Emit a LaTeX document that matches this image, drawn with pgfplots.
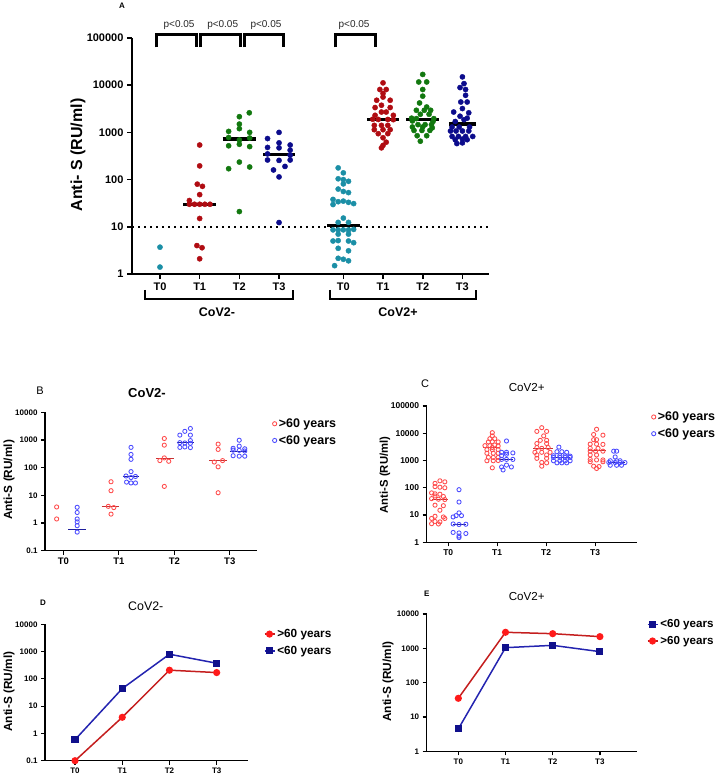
\documentclass[border=0pt]{standalone}
\usepackage{fontspec}
\setmainfont{Liberation Sans}
\usepackage{pgfplots}
\pgfplotsset{compat=1.18}
\definecolor{cteal}{HTML}{1B8FA6}
\definecolor{cdred}{HTML}{B00C12}
\definecolor{cgreen}{HTML}{12780F}
\definecolor{cnavy}{HTML}{0C0C8C}
\definecolor{lred}{HTML}{FF4B4B}
\definecolor{lblue}{HTML}{4B4BFF}
\definecolor{mred}{HTML}{C83232}
\definecolor{mblue}{HTML}{1E1E9C}
\definecolor{lnred}{HTML}{C41E1E}
\definecolor{ptred}{HTML}{FF1A1A}
\definecolor{lnnavy}{HTML}{2424B0}
\definecolor{ptnavy}{HTML}{10108C}
\newcommand{\fs}[1]{\fontsize{#1}{#1}\selectfont}
\begin{document}
\begin{tikzpicture}
\useasboundingbox (0,0) rectangle (718pt,775pt);
% ================= Panel A =================
\begin{axis}[at={(132pt,501pt)}, anchor=south west, scale only axis, width=357pt, height=236pt,
  ymode=log, xmin=0.295, xmax=9.29, ymin=1, ymax=100000,
  axis x line*=bottom, axis y line*=left, axis line style={line width=2pt,-},
  log ticks with fixed point, yminorticks=false, tick align=outside, major tick length=5pt,
  tick style={line width=1.6pt, black}, clip=false,
  xtick={1,2,3,4,5.62,6.62,7.62,8.62}, xticklabels={T0,T1,T2,T3,T0,T1,T2,T3},
  ytick={1,10,100,1000,10000,100000},
  tick label style={font=\bfseries\fs{11}},
  /pgf/number format/1000 sep={}, /pgf/number format/assume math mode=true]
\addplot[black, line width=1.7pt, dash pattern=on 1.7pt off 4.3pt, forget plot] coordinates {(0.295,10) (9.29,10)};
\addplot[only marks, mark=*, mark size=2.6pt, cteal] coordinates {(1,3.7) (1,1.4)};
\addplot[only marks, mark=*, mark size=2.6pt, cdred] coordinates {(2.0,540) (2.0,195) (1.94,80) (2.07,72) (2.0,48) (1.74,36) (1.74,30) (1.87,30) (2.0,30) (2.13,30) (2.26,30) (2.0,15) (1.93,4.0) (2.06,3.6) (2.0,2.1)};
\addplot[only marks, mark=*, mark size=2.6pt, cgreen] coordinates {(3.25,2600) (3.0,2150) (3.0,1500) (3.0,1200) (2.73,1050) (3.26,1000) (2.73,780) (3.26,760) (3.0,690) (3.0,560) (2.73,520) (3.26,500) (3.0,235) (2.73,170) (3.26,185) (3.0,21)};
\addplot[only marks, mark=*, mark size=2.6pt, cnavy] coordinates {(4,1000) (3.71,740) (4,600) (4.28,540) (3.71,480) (4,470) (4.28,420) (3.71,350) (4.28,330) (3.71,260) (4,255) (4.28,260) (4.15,190) (3.86,160) (4,114) (4,12.3)};
\addplot[only marks, mark=*, mark size=2.6pt, cteal] coordinates {(5.49,177) (5.62,139) (5.49,104) (5.62,100) (5.75,92) (5.62,81) (5.49,63) (5.62,56) (5.75,53) (5.36,38) (5.49,34) (5.62,35) (5.75,33) (5.88,31) (5.36,29.6) (5.62,15.3) (5.49,12.4) (5.75,12.4) (5.36,8.6) (5.49,8.6) (5.62,8.6) (5.75,8.6) (5.88,8.8) (5.49,7.0) (5.75,7.0) (5.36,5.0) (5.49,5.1) (5.75,5.0) (5.88,4.6) (5.49,3.5) (5.75,3.1) (5.49,2.15) (5.62,2.05) (5.75,1.9) (5.40,1.5)};
\addplot[only marks, mark=*, mark size=2.6pt, cdred] coordinates {(6.62,11200) (6.54,8100) (6.70,8100) (6.62,6700) (6.46,4800) (6.62,5600) (6.80,4800) (6.58,3760) (6.42,3360) (6.80,3360) (6.58,2700) (6.70,2700) (6.42,2300) (6.88,2300) (6.36,1900) (6.50,1880) (6.74,1880) (6.88,1860) (6.40,1410) (6.58,1410) (6.74,1410) (6.40,1140) (6.62,1140) (6.80,1140) (6.50,940) (6.74,940) (6.62,770) (6.70,620) (6.62,530) (6.58,470)};
\addplot[only marks, mark=*, mark size=2.6pt, cgreen] coordinates {(7.62,16900) (7.52,11700) (7.72,11700) (7.62,8100) (7.62,5860) (7.54,4200) (7.72,3450) (7.46,2940) (7.66,2940) (7.82,2940) (7.56,2420) (7.78,2420) (7.34,2000) (7.46,1960) (7.90,1960) (7.36,1750) (7.88,1700) (7.50,1460) (7.68,1460) (7.84,1460) (7.36,1300) (7.62,1300) (7.86,1250) (7.40,1100) (7.60,1100) (7.80,1100) (7.48,850) (7.72,850) (7.56,650)};
\addplot[only marks, mark=*, mark size=2.6pt, cnavy] coordinates {(8.62,15000) (8.66,10800) (8.56,8900) (8.70,8100) (8.70,6100) (8.58,4400) (8.74,4400) (8.62,3200) (8.40,2700) (8.78,2600) (8.56,2200) (8.74,2000) (8.66,1860) (8.44,1700) (8.36,1300) (8.54,1300) (8.80,1300) (8.32,1070) (8.46,1070) (8.62,1070) (8.78,1070) (8.36,820) (8.52,820) (8.70,820) (8.88,820) (8.44,700) (8.62,720) (8.74,700) (8.48,580) (8.62,600)};
\addplot[black, line width=3.4pt] coordinates {(1.58,30) (2.42,30)};
\addplot[black, line width=3.4pt] coordinates {(2.58,720) (3.42,720)};
\addplot[black, line width=3.4pt] coordinates {(3.6,340) (4.4,340)};
\addplot[black, line width=3.4pt] coordinates {(5.21,10.7) (6.03,10.7)};
\addplot[black, line width=3.4pt] coordinates {(6.21,1880) (7.03,1880)};
\addplot[black, line width=3.4pt] coordinates {(7.21,1900) (8.03,1900)};
\addplot[black, line width=3.4pt] coordinates {(8.28,1500) (8.96,1500)};
\draw[line width=3pt] (axis cs:0.92,63000) -- (axis cs:0.92,120000) -- (axis cs:1.91,120000) -- (axis cs:1.91,63000);
\draw[line width=3pt] (axis cs:2.01,63000) -- (axis cs:2.01,120000) -- (axis cs:3.02,120000) -- (axis cs:3.02,63000);
\draw[line width=3pt] (axis cs:3.14,63000) -- (axis cs:3.14,120000) -- (axis cs:4.10,120000) -- (axis cs:4.10,63000);
\draw[line width=3pt] (axis cs:5.41,63000) -- (axis cs:5.41,120000) -- (axis cs:6.42,120000) -- (axis cs:6.42,63000);
\node[font=\fs{10}, text=black!85] at (axis cs:1.48,186000) {p<0.05};
\node[font=\fs{10}, text=black!85] at (axis cs:2.58,186000) {p<0.05};
\node[font=\fs{10}, text=black!85] at (axis cs:3.67,186000) {p<0.05};
\node[font=\fs{10}, text=black!85] at (axis cs:5.89,186000) {p<0.05};
\end{axis}
\draw[line width=2pt] (145pt,485pt) -- (145pt,476pt) -- (293pt,476pt) -- (293pt,485pt);
\draw[line width=2pt] (330pt,485pt) -- (330pt,476pt) -- (476pt,476pt) -- (476pt,485pt);
\node[font=\bfseries\fs{12.5}] at (217pt,463pt) {CoV2-};
\node[font=\bfseries\fs{12.5}] at (398pt,463pt) {CoV2+};
\node[font=\bfseries\fs{16}, rotate=90] at (78pt,620pt) {Anti- S (RU/ml)};
\node[font=\bfseries\fs{8}] at (122pt,769pt) {A};
% ================= Panel B =================
\begin{axis}[at={(45pt,224.3pt)}, anchor=south west, scale only axis, width=211.7pt, height=138.4pt,
  ymode=log, xmin=-0.33, xmax=3.485, ymin=0.1, ymax=10000,
  axis x line*=bottom, axis y line*=left, axis line style={line width=1.4pt,-},
  log ticks with fixed point, yminorticks=false, tick align=outside, major tick length=4pt,
  tick style={line width=1.2pt, black}, clip=false,
  xtick={0,1,2,3}, xticklabels={T0,T1,T2,T3},
  ytick={0.1,1,10,100,1000,10000},
  yticklabel style={font=\bfseries\fs{8}}, xticklabel style={font=\bfseries\fs{9.5}},
  legend image code/.code={\draw[mark repeat=2,mark phase=2,#1] plot coordinates {(0pt,0pt) (5pt,0pt) (10pt,0pt)};},
  legend style={at={(axis description cs:1.074,0.97)}, anchor=north west, draw=none, fill=none,
    font=\bfseries\fs{12.5}, inner sep=0pt, nodes={inner sep=2pt}, row sep=2.5pt},
  legend cell align=left,
  /pgf/number format/1000 sep={}, /pgf/number format/assume math mode=true]
\addplot[only marks, mark=o, mark size=2.1pt, mark options={line width=0.85pt}, lred] coordinates {(-0.12,3.8) (-0.12,1.4) (0.86,31) (0.86,14.7) (0.81,4.0) (0.91,3.6) (0.86,2.1) (1.82,1130) (1.82,650) (1.82,225) (1.74,180) (1.90,170) (1.82,21) (2.79,710) (2.79,455) (2.87,180) (2.72,160) (2.79,107) (2.79,12.4)};
\addlegendentry{>60 years}
\addplot[only marks, mark=o, mark size=2.1pt, mark options={line width=0.85pt}, lblue] coordinates {(0.25,3.7) (0.25,2.4) (0.25,1.4) (0.25,1.1) (0.25,0.8) (0.25,0.47) (1.22,540) (1.22,300) (1.22,200) (1.22,72) (1.13,50) (1.30,48) (1.22,44) (1.14,30) (1.22,28) (1.30,28) (2.29,2600) (2.19,2050) (2.10,1500) (2.29,1500) (2.29,950) (2.10,800) (2.19,780) (2.29,760) (2.10,540) (2.29,530) (2.19,560) (3.17,980) (3.17,600) (3.06,500) (3.27,480) (3.06,430) (3.17,420) (3.27,400) (3.06,270) (3.17,260) (3.27,260)};
\addlegendentry{<60 years}
\addplot[mblue, line width=1pt, forget plot] coordinates {(0.09,0.59) (0.41,0.59)};
\addplot[mred, line width=1pt, forget plot] coordinates {(0.69,3.8) (1.01,3.8)};
\addplot[mblue, line width=1pt, forget plot] coordinates {(1.07,47) (1.37,47)};
\addplot[mred, line width=1pt, forget plot] coordinates {(1.67,210) (1.99,210)};
\addplot[mblue, line width=1pt, forget plot] coordinates {(2.04,810) (2.35,810)};
\addplot[mred, line width=1pt, forget plot] coordinates {(2.63,175) (2.95,175)};
\addplot[mblue, line width=1pt, forget plot] coordinates {(3.0,370) (3.31,370)};
\end{axis}
\node[font=\fs{11}] at (40pt,384pt) {B};
\node[font=\bfseries\fs{13}] at (147pt,382pt) {CoV2-};
\node[font=\bfseries\fs{11.8}, rotate=90] at (9pt,295pt) {Anti-S (RU/ml)};
% ================= Panel C =================
\begin{axis}[at={(426.7pt,232.7pt)}, anchor=south west, scale only axis, width=210pt, height=136.3pt,
  ymode=log, xmin=-0.44, xmax=3.85, ymin=1, ymax=100000,
  axis x line*=bottom, axis y line*=left, axis line style={line width=1.4pt,-},
  log ticks with fixed point, yminorticks=false, tick align=outside, major tick length=4pt,
  tick style={line width=1.2pt, black}, clip=false,
  xtick={0,1,2,3}, xticklabels={T0,T1,T2,T3},
  ytick={1,10,100,1000,10000,100000},
  tick label style={font=\bfseries\fs{8.5}},
  legend image code/.code={\draw[mark repeat=2,mark phase=2,#1] plot coordinates {(0pt,0pt) (5pt,0pt) (10pt,0pt)};},
  legend style={at={(axis description cs:1.07,0.973)}, anchor=north west, draw=none, fill=none,
    font=\bfseries\fs{12.5}, inner sep=0pt, nodes={inner sep=2pt}, row sep=2.5pt},
  legend cell align=left,
  /pgf/number format/1000 sep={}, /pgf/number format/assume math mode=true]
\addplot[only marks, mark=o, mark size=2.1pt, mark options={line width=0.85pt}, lred] coordinates {(-0.17,180) (-0.07,165) (-0.27,145) (-0.27,110) (-0.17,105) (-0.07,100) (-0.34,65) (-0.27,60) (-0.17,58) (-0.27,50) (-0.10,48) (-0.34,40) (-0.20,38) (-0.07,37) (-0.27,23) (-0.10,22) (-0.17,15) (-0.27,9) (-0.10,8.5) (-0.34,7.5) (-0.07,7.5) (-0.27,5.8) (-0.17,5.6) (-0.34,4.8) (-0.20,4.7)
 (0.90,10500) (0.90,8000) (0.85,6300) (0.95,6300) (0.82,4800) (0.90,4900) (1.02,4800) (0.75,3500) (0.85,3500) (0.95,3700) (1.02,3400) (0.90,3000) (0.79,2500) (0.90,2500) (1.02,2500) (0.79,1850) (0.92,1850) (1.02,1850) (0.82,1300) (0.92,1300) (1.02,1300) (0.79,980) (0.92,980) (1.02,1000) (0.90,540)
 (1.91,16000) (1.81,11700) (2.01,11700) (1.95,8000) (1.88,5500) (2.01,5500) (1.81,4200) (2.01,4200) (1.81,3000) (1.91,2800) (2.04,3000) (1.77,2000) (1.91,2000) (2.08,2000) (1.81,1600) (2.01,1600) (1.81,1200) (2.01,1200) (1.91,850) (2.01,820) (1.91,620)
 (3.03,14000) (2.97,9000) (3.16,8500) (2.97,5800) (3.03,5800) (2.90,4000) (3.03,4000) (3.16,3900) (2.90,2800) (3.06,2800) (2.90,2200) (3.01,2200) (3.16,2200) (2.90,1600) (3.03,1600) (2.90,1100) (3.03,1050) (3.16,1050) (2.90,900) (3.16,900) (2.97,620) (3.08,600) (3.03,510)};
\addlegendentry{>60 years}
\addplot[only marks, mark=o, mark size=2.1pt, mark options={line width=0.85pt}, lblue] coordinates {(0.22,85) (0.22,30) (0.22,12) (0.16,9.5) (0.27,9.5) (0.10,8.5) (0.10,4.7) (0.22,4.5) (0.36,4.6) (0.10,2.3) (0.22,2.2) (0.36,2.1) (0.22,1.7) (0.22,1.5)
 (1.19,5200) (1.09,2000) (1.19,2000) (1.32,1900) (1.19,1700) (1.09,1500) (1.09,1100) (1.19,1100) (1.32,1100) (1.19,680) (1.09,580) (1.29,580) (1.12,450)
 (2.26,3100) (2.22,2100) (2.32,2100) (2.42,2000) (2.15,1500) (2.28,1500) (2.39,1500) (2.49,1450) (2.15,1300) (2.28,1300) (2.39,1300) (2.49,1300) (2.15,980) (2.28,980) (2.39,980) (2.49,980) (2.22,820) (2.32,820) (2.42,820)
 (3.38,2200) (3.44,2200) (3.41,1350) (3.31,980) (3.44,980) (3.51,980) (3.28,850) (3.41,850) (3.51,840) (3.61,840) (3.31,670) (3.44,670) (3.54,670)};
\addlegendentry{<60 years}
\addplot[mred, line width=1pt, forget plot] coordinates {(-0.34,37) (0,37)};
\addplot[mblue, line width=1pt, forget plot] coordinates {(0.09,4.5) (0.37,4.5)};
\addplot[mred, line width=1pt, forget plot] coordinates {(0.72,3000) (1.06,3000)};
\addplot[mblue, line width=1pt, forget plot] coordinates {(1.06,1090) (1.33,1090)};
\addplot[mred, line width=1pt, forget plot] coordinates {(1.74,2650) (2.15,2650)};
\addplot[mblue, line width=1pt, forget plot] coordinates {(2.15,1290) (2.49,1290)};
\addplot[mred, line width=1pt, forget plot] coordinates {(2.86,2250) (3.22,2250)};
\addplot[mblue, line width=1pt, forget plot] coordinates {(3.27,840) (3.61,840)};
\end{axis}
\node[font=\fs{11}] at (425pt,391pt) {C};
\node[font=\fs{11.6}] at (526.7pt,387pt) {CoV2+};
\node[font=\bfseries\fs{11.3}, rotate=90] at (385pt,300pt) {Anti-S (RU/ml)};
% ================= Panel D =================
\begin{axis}[at={(45pt,14.3pt)}, anchor=south west, scale only axis, width=203.3pt, height=136.4pt,
  ymode=log, xmin=-0.636, xmax=3.67, ymin=0.1, ymax=10000,
  axis x line*=bottom, axis y line*=left, axis line style={line width=1.4pt,-},
  log ticks with fixed point, yminorticks=false, tick align=outside, major tick length=4pt,
  tick style={line width=1.2pt, black}, clip=false,
  xtick={0,1,2,3}, xticklabels={T0,T1,T2,T3},
  ytick={0.1,1,10,100,1000,10000},
  tick label style={font=\bfseries\fs{8}},
  legend image code/.code={\draw[mark repeat=2,mark phase=2,#1] plot coordinates {(0pt,0pt) (5pt,0pt) (10pt,0pt)};},
  legend style={at={(axis description cs:1.075,0.98)}, anchor=north west, draw=none, fill=none,
    font=\bfseries\fs{11.8}, inner sep=0pt, nodes={inner sep=2pt}, row sep=3pt},
  legend cell align=left,
  /pgf/number format/1000 sep={}, /pgf/number format/assume math mode=true]
\addplot[lnred, line width=1.5pt, mark=*, mark size=2.8pt, mark options={fill=ptred, draw=ptred}] coordinates {(0,0.1) (1,3.9) (2,208) (3,170)};
\addlegendentry{>60 years}
\addplot[lnnavy, line width=1.5pt, mark=square*, mark size=2.8pt, mark options={fill=ptnavy, draw=ptnavy}] coordinates {(0,0.59) (1,44) (2,800) (3,374)};
\addlegendentry{<60 years}
\end{axis}
\node[font=\bfseries\fs{8}] at (43pt,172pt) {D};
\node[font=\fs{12.4}] at (145.8pt,168.3pt) {CoV2-};
\node[font=\bfseries\fs{11.8}, rotate=90] at (9pt,83.3pt) {Anti-S (RU/ml)};
% ================= Panel E =================
\begin{axis}[at={(426.7pt,23.7pt)}, anchor=south west, scale only axis, width=210pt, height=137.3pt,
  ymode=log, xmin=-0.67, xmax=3.78, ymin=1, ymax=10000,
  axis x line*=bottom, axis y line*=left, axis line style={line width=1.4pt,-},
  log ticks with fixed point, yminorticks=false, tick align=outside, major tick length=4pt,
  tick style={line width=1.2pt, black}, clip=false,
  xtick={0,1,2,3}, xticklabels={T0,T1,T2,T3},
  ytick={1,10,100,1000,10000},
  tick label style={font=\bfseries\fs{8}},
  legend image code/.code={\draw[mark repeat=2,mark phase=2,#1] plot coordinates {(0pt,0pt) (5pt,0pt) (10pt,0pt)};},
  legend style={at={(axis description cs:1.047,0.975)}, anchor=north west, draw=none, fill=none,
    font=\bfseries\fs{11.6}, inner sep=0pt, nodes={inner sep=2pt}, row sep=3pt},
  legend cell align=left,
  /pgf/number format/1000 sep={}, /pgf/number format/assume math mode=true]
\addplot[lnnavy, line width=1.5pt, mark=square*, mark size=2.8pt, mark options={fill=ptnavy, draw=ptnavy}] coordinates {(0,4.5) (1,1045) (2,1220) (3,800)};
\addlegendentry{<60 years}
\addplot[lnred, line width=1.5pt, mark=*, mark size=2.8pt, mark options={fill=ptred, draw=ptred}] coordinates {(0,35) (1,2930) (2,2670) (3,2190)};
\addlegendentry{>60 years}
\end{axis}
\node[font=\bfseries\fs{8}] at (426.7pt,181.7pt) {E};
\node[font=\fs{11.6}] at (526.7pt,178.3pt) {CoV2+};
\node[font=\bfseries\fs{11.8}, rotate=90] at (388pt,93.3pt) {Anti-S (RU/ml)};
\end{tikzpicture}
\end{document}
